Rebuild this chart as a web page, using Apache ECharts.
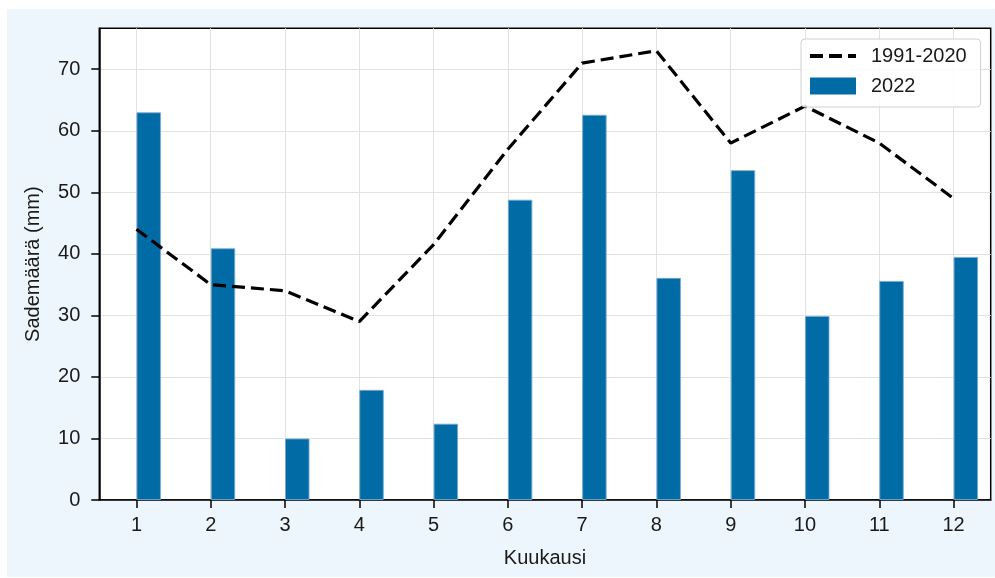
<!DOCTYPE html>
<html>
<head>
<meta charset="utf-8">
<script src="https://cdn.jsdelivr.net/npm/echarts@6/dist/echarts.min.js"></script>
<style>
  html, body { margin: 0; padding: 0; background: #ffffff; }
  #panel { position: absolute; left: 7px; top: 9px; width: 988px; height: 568px; background: #eef6fd; }
  #chart { position: absolute; left: 0; top: 0; width: 995px; height: 578px; }
</style>
</head>
<body>
<div id="panel"></div>
<div id="chart"></div>
<script>
// Monthly precipitation (mm): 2022 vs. 1991-2020 normal
const months = [1, 2, 3, 4, 5, 6, 7, 8, 9, 10, 11, 12];
const rain2022 = [63.0, 40.9, 10.0, 17.9, 12.4, 48.8, 62.6, 36.1, 53.6, 29.9, 35.6, 39.5];
const normal19912020 = [44, 35, 34, 29, 41.5, 57, 71, 73, 58, 64, 58, 49];
const yTicks = [0, 10, 20, 30, 40, 50, 60, 70];
const xTicks = months;

const FONT = 'Liberation Sans, Arial, sans-serif';
const FS = 20;
const BAR_W = 0.33;              // bar width in month units, bars start at the month tick
const X_MIN = 0.5, X_MAX = 12.5;
const Y_MAX = 76.65;
const PLOT_W = 995 - 99.3 - 4.3;

const chart = echarts.init(document.getElementById('chart'), null, { renderer: 'canvas' });

chart.setOption({
  backgroundColor: 'transparent',
  animation: false,
  textStyle: { fontFamily: FONT },
  grid: {
    left: 99.3, right: 4.3, top: 28.3, bottom: 78,
    show: true, borderColor: '#000', borderWidth: 1.5, backgroundColor: '#fff'
  },
  legend: {
    orient: 'vertical',
    left: 801, top: 39,
    padding: [7, 14, 11, 7],
    itemGap: 10,
    itemWidth: 46,
    itemHeight: 17,
    backgroundColor: 'rgba(255,255,255,0.85)',
    borderColor: '#d0d0d0',
    borderWidth: 1,
    borderRadius: 4,
    textStyle: { fontFamily: FONT, fontSize: FS, color: '#1a1a1a', padding: [0, 0, 0, 10] },
    data: [
      {
        name: '1991-2020',
        itemStyle: { color: 'rgba(0,0,0,0)', borderColor: 'rgba(0,0,0,0)', borderWidth: 0 },
        lineStyle: { color: '#000', width: 4, type: [13, 6] }
      },
      { name: '2022', icon: 'rect', itemStyle: { borderWidth: 0 } }
    ]
  },
  xAxis: [
    {
      type: 'value', min: X_MIN, max: X_MAX,
      axisLine: { show: true, lineStyle: { color: '#000', width: 1.5 } },
      axisTick: { show: true, length: 8, lineStyle: { color: '#000', width: 1.5 }, customValues: xTicks },
      axisLabel: { customValues: xTicks, margin: 15, fontSize: FS, color: '#1a1a1a', fontFamily: FONT },
      splitLine: { show: true, lineStyle: { color: '#e2e2e2', width: 1 } },
      name: 'Kuukausi', nameLocation: 'middle', nameGap: 48,
      nameTextStyle: { fontSize: FS, color: '#1a1a1a', fontFamily: FONT }
    },
    {
      // hidden companion axis, shifted so each bar's left edge sits on its month
      type: 'value', min: X_MIN - BAR_W / 2, max: X_MAX - BAR_W / 2,
      position: 'bottom', show: false
    }
  ],
  yAxis: {
    type: 'value', min: 0, max: Y_MAX,
    axisLine: { show: true, lineStyle: { color: '#000', width: 1.5 } },
    axisTick: { show: true, length: 8, lineStyle: { color: '#000', width: 1.5 }, customValues: yTicks },
    axisLabel: { customValues: yTicks, margin: 19, fontSize: FS, color: '#1a1a1a', fontFamily: FONT },
    splitLine: { show: true, lineStyle: { color: '#e2e2e2', width: 1 } },
    name: 'Sademäärä (mm)', nameLocation: 'middle', nameGap: 56,
    nameTextStyle: { fontSize: FS, color: '#1a1a1a', fontFamily: FONT }
  },
  series: [
    {
      name: '2022',
      type: 'bar',
      xAxisIndex: 1,
      barWidth: BAR_W * PLOT_W / (X_MAX - X_MIN),
      itemStyle: { color: '#006BA4', borderColor: 'rgba(120,170,210,0.9)', borderWidth: 1 },
      data: months.map((m, i) => [m, rain2022[i]]),
      z: 2
    },
    {
      name: '1991-2020',
      type: 'line',
      xAxisIndex: 0,
      symbol: 'none',
      lineStyle: { color: '#000', width: 3.2, type: [13, 6] },
      itemStyle: { color: '#000' },
      data: months.map((m, i) => [m, normal19912020[i]]),
      z: 3
    }
  ]
});
</script>
</body>
</html>
